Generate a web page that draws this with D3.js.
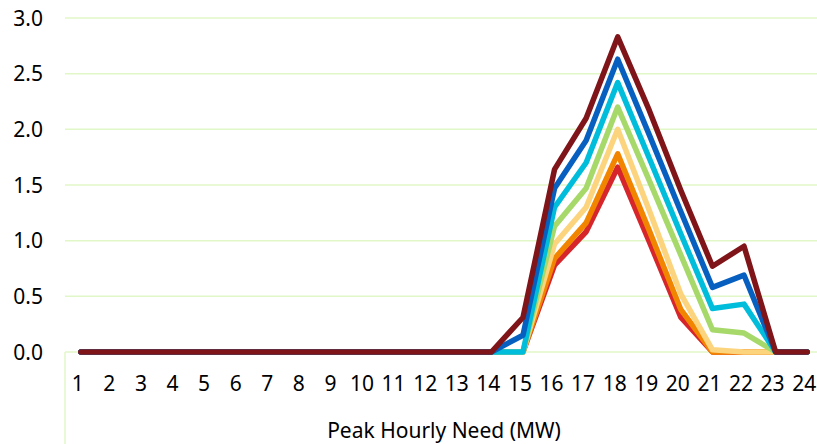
<!DOCTYPE html>
<html>
<head>
  <meta charset="utf-8">
  <title>Peak Hourly Need</title>
  <script src="https://d3js.org/d3.v7.min.js"></script>
  <style>
    body {
      margin: 0;
      background: #fff;
      font-family: "Noto Sans", sans-serif;
    }
    .grid line {
      stroke: #e2f7c8;
      stroke-width: 1.5;
    }
    .tick-label {
      font-size: 21px;
      fill: #000;
    }
    .series {
      fill: none;
      stroke-width: 5.5;
      stroke-linejoin: round;
      stroke-linecap: round;
    }
  </style>
</head>
<body>
  <div id="chart"></div>

  <script>
    // tick labels
    const hours = ["1", "2", "3", "4", "5", "6", "7", "8", "9", "10", "11", "12",
                   "13", "14", "15", "16", "17", "18", "19", "20", "21", "22", "23", "24"];
    const yTicks = [0, 0.5, 1.0, 1.5, 2.0, 2.5, 3.0];

    // series values, bottom line first so the dark one ends on top
    const redVals    = [0,0,0,0,0,0,0,0,0,0,0,0,0,0,0, 0.78, 1.08, 1.66, 0.99, 0.31, 0,    0,    0, 0];
    const orangeVals = [0,0,0,0,0,0,0,0,0,0,0,0,0,0,0, 0.84, 1.16, 1.78, 1.09, 0.38, 0,    0,    0, 0];
    const paleVals   = [0,0,0,0,0,0,0,0,0,0,0,0,0,0,0, 0.97, 1.30, 2.00, 1.27, 0.52, 0.02, 0,    0, 0];
    const greenVals  = [0,0,0,0,0,0,0,0,0,0,0,0,0,0,0, 1.13, 1.47, 2.20, 1.54, 0.87, 0.20, 0.17, 0, 0];
    const cyanVals   = [0,0,0,0,0,0,0,0,0,0,0,0,0,0,0, 1.30, 1.70, 2.42, 1.74, 1.06, 0.39, 0.43, 0, 0];
    const blueVals   = [0,0,0,0,0,0,0,0,0,0,0,0,0,0,0.15, 1.47, 1.90, 2.63, 1.95, 1.26, 0.58, 0.69, 0, 0];
    const darkVals   = [0,0,0,0,0,0,0,0,0,0,0,0,0,0,0.31, 1.64, 2.10, 2.83, 2.17, 1.45, 0.77, 0.95, 0, 0];

    const seriesList = [
      { name: "red",    color: "#d7262b", values: redVals },
      { name: "orange", color: "#f28500", values: orangeVals },
      { name: "pale",   color: "#fdd47e", values: paleVals },
      { name: "green",  color: "#a6d96a", values: greenVals },
      { name: "cyan",   color: "#00bedb", values: cyanVals },
      { name: "blue",   color: "#0760bf", values: blueVals },
      { name: "dark",   color: "#7f1519", values: darkVals }
    ];

    const width = 817, height = 444;
    const plot = { left: 65, right: 823, top: 18, bottom: 352 };

    const svg = d3.select("#chart")
      .append("svg")
      .attr("width", width)
      .attr("height", height);

    // scales
    const x = d3.scalePoint()
      .domain(hours)
      .range([plot.left, plot.right])
      .padding(0.5);
    const y = d3.scaleLinear()
      .domain([0, 3])
      .range([plot.bottom, plot.top]);

    // horizontal gridlines
    svg.append("g")
      .attr("class", "grid")
      .selectAll("line")
      .data(yTicks)
      .enter()
      .append("line")
      .attr("x1", plot.left)
      .attr("x2", width)
      .attr("y1", d => y(d))
      .attr("y2", d => y(d));

    // left edge line below the axis
    svg.append("g")
      .attr("class", "grid")
      .append("line")
      .attr("x1", plot.left)
      .attr("x2", plot.left)
      .attr("y1", y(0))
      .attr("y2", height);

    // y tick labels
    svg.selectAll(".y-label")
      .data(yTicks)
      .enter()
      .append("text")
      .attr("class", "tick-label")
      .attr("x", 43)
      .attr("y", d => y(d))
      .attr("dy", "0.36em")
      .attr("text-anchor", "end")
      .text(d => d3.format(".1f")(d));

    // x tick labels (nudged a little left, the last one sits at the edge)
    svg.selectAll(".x-label")
      .data(hours)
      .enter()
      .append("text")
      .attr("class", "tick-label")
      .attr("x", d => x(d) - 3)
      .attr("y", 391)
      .attr("text-anchor", "middle")
      .text(d => d);

    // axis title
    svg.append("text")
      .attr("class", "tick-label")
      .attr("x", (plot.left + plot.right) / 2)
      .attr("y", 438)
      .attr("text-anchor", "middle")
      .text("Peak Hourly Need (MW)");

    // lines
    const line = d3.line()
      .x((d, i) => x(hours[i]))
      .y(d => y(d));

    svg.selectAll(".series")
      .data(seriesList)
      .enter()
      .append("path")
      .attr("class", "series")
      .attr("stroke", d => d.color)
      .attr("d", d => line(d.values));
  </script>
</body>
</html>
